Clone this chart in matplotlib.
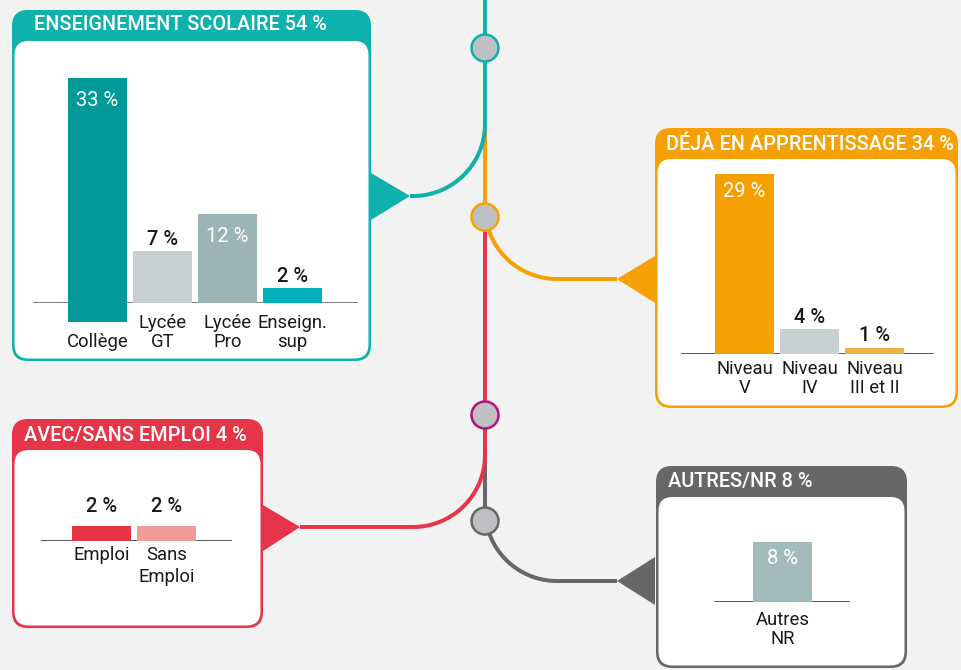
import numpy as np
import matplotlib.pyplot as plt
from matplotlib.patches import FancyBboxPatch, Polygon, Circle

plt.rcParams['font.family'] = ['Roboto', 'DejaVu Sans']

## données
titres = ['ENSEIGNEMENT SCOLAIRE 54 %', 'DÉJÀ EN APPRENTISSAGE 34 %',
          'AVEC/SANS EMPLOI 4 %', 'AUTRES/NR 8 %']
scol_cats = ['Collège', 'Lycée\nGT', 'Lycée\nPro', 'Enseign.\nsup']
scol_vals = [33, 7, 12, 2]
appr_cats = ['Niveau\nV', 'Niveau\nIV', 'Niveau\nIII et II']
appr_vals = [29, 4, 1]
empl_cats = ['Emploi', 'Sans\nEmploi']
empl_vals = [2, 2]
autr_cats = ['Autres\nNR']
autr_vals = [8]

## couleurs
FOND = '#f2f2f2'
TEAL = '#0fb1ad'
ORANGE = '#f5a005'
ROUGE = '#e63448'
GRIS = '#666769'
MAGENTA = '#b2127e'
NOEUD = '#bec0c3'
TEXTE = '#1a1a1a'

W, H = 961, 670
PX = 0.72  # pixels -> points

fig = plt.figure(figsize=(W / 100, H / 100), dpi=100)
fig.patch.set_facecolor(FOND)
ax = fig.add_axes([0, 0, 1, 1])
ax.set_xlim(0, W)
ax.set_ylim(H, 0)
ax.axis('off')


def arc(cx, cy, r, t0, t1):
    t = np.radians(np.linspace(t0, t1, 60))
    return list(cx + r * np.cos(t)), list(cy + r * np.sin(t))


def trace(xs, ys, couleur):
    ax.plot(xs, ys, color=couleur, lw=4 * PX, solid_capstyle='butt', zorder=2)


## lignes de metro
ax_, ay_ = arc(557, 207, 72, 180, 90)
trace([485] + ax_ + [617], [124] + ay_ + [279], ORANGE)
ax_, ay_ = arc(413, 124, 72, 0, 90)
trace([485] + ax_ + [410], [-5] + ay_ + [196], TEAL)
ax_, ay_ = arc(557, 509, 72, 180, 90)
trace([485] + ax_ + [617], [455] + ay_ + [581], GRIS)
ax_, ay_ = arc(413, 455, 72, 0, 90)
trace([485] + ax_ + [300], [217] + ay_ + [527], ROUGE)

for y, c in [(48, TEAL), (217, ORANGE), (415, MAGENTA), (521, GRIS)]:
    ax.add_patch(Circle((485, y), 13.5, fc=NOEUD, ec=c, lw=2.5 * PX, zorder=4))

## triangles
for pts, c in [([(371, 173), (371, 220), (410, 196)], TEAL),
               ([(655, 256), (655, 303), (617, 279)], ORANGE),
               ([(263, 505), (263, 551), (300, 527)], ROUGE),
               ([(655, 557), (655, 605), (617, 581)], GRIS)]:
    ax.add_patch(Polygon(pts, closed=True, fc=c, ec='none', zorder=3))

## cadres
cadres = [((12, 10, 371, 361), 41, TEAL, (34, 25)),
          ((655, 128, 958, 408), 159, ORANGE, (666, 144)),
          ((12, 419, 263, 628), 450, ROUGE, (24, 435)),
          ((656, 466, 907, 668), 497, GRIS, (668, 482))]
for (x0, y0, x1, y1), yb, c, (tx, ty) in cadres:
    ax.add_patch(FancyBboxPatch((x0, y0), x1 - x0, y1 - y0,
                                boxstyle='round,pad=0,rounding_size=16',
                                fc=c, ec='none', zorder=5))
    ax.add_patch(FancyBboxPatch((x0 + 2.5, yb), x1 - x0 - 5, y1 - 2.5 - yb,
                                boxstyle='round,pad=0,rounding_size=14',
                                fc='white', ec='none', zorder=6))
for (box, yb, c, (tx, ty)), t in zip(cadres, titres):
    ax.text(tx, ty, t, color='white', fontsize=14.3, fontweight='medium',
            ha='left', va='center', zorder=7)


## barres
def barres(cats, vals, couleurs, bas, xg, xd, c0, base, echelle, ymax,
           trait, d_in, d_out, d_cat, interligne=1.05):
    axb = fig.add_axes([xg / W, 1 - base / H, (xd - xg) / W, ymax * echelle / H])
    axb.set_xlim((xg - c0) / 65, (xd - c0) / 65)
    axb.set_ylim(0, ymax)
    axb.axis('off')
    axb.axhline(0, color=trait, lw=1.5 * PX, zorder=1)
    x = np.arange(len(vals))
    axb.bar(x, vals, width=59 / 65, bottom=bas, color=couleurs, zorder=2, clip_on=False)
    for i, v in enumerate(vals):
        haut = bas[i] + v
        if v >= 8:
            axb.annotate(f'{v} %', xy=(i, haut), xytext=(0, -d_in * PX),
                         textcoords='offset points', ha='center', va='center',
                         color='white', fontsize=14.5, annotation_clip=False)
        else:
            axb.annotate(f'{v} %', xy=(i, haut), xytext=(0, d_out * PX),
                         textcoords='offset points', ha='center', va='center',
                         color=TEXTE, fontsize=14.5, fontweight='medium',
                         annotation_clip=False)
        axb.annotate(cats[i], xy=(i, bas[i]), xytext=(0, -d_cat * PX),
                     textcoords='offset points', ha='center', va='top',
                     color=TEXTE, fontsize=13.3, linespacing=interligne,
                     annotation_clip=False)


barres(scol_cats, scol_vals, ['#009a98', '#c8d0d1', '#9db4b6', '#00afbe'],
       [-2.6, 0, 0, 0], 33, 358, 97.5, 303, 7.4, 35, '#555555', 22, 12, 11)
barres(appr_cats, appr_vals, ['#f5a000', '#c8d0d1', '#f1b045'],
       [0, 0, 0], 681, 934, 744.5, 354, 6.2, 30, '#222222', 17, 12, 6)
barres(empl_cats, empl_vals, ['#e63346', '#f09b97'],
       [0, 0], 41, 232, 101.5, 541, 7.5, 5, '#222222', 17, 20, 5, 1.3)
barres(autr_cats, autr_vals, ['#a4bbbc'],
       [0], 714, 850, 782.5, 602, 7.5, 10, '#222222', 16, 12, 9)

fig.savefig('out.png', dpi=100, facecolor=FOND)
